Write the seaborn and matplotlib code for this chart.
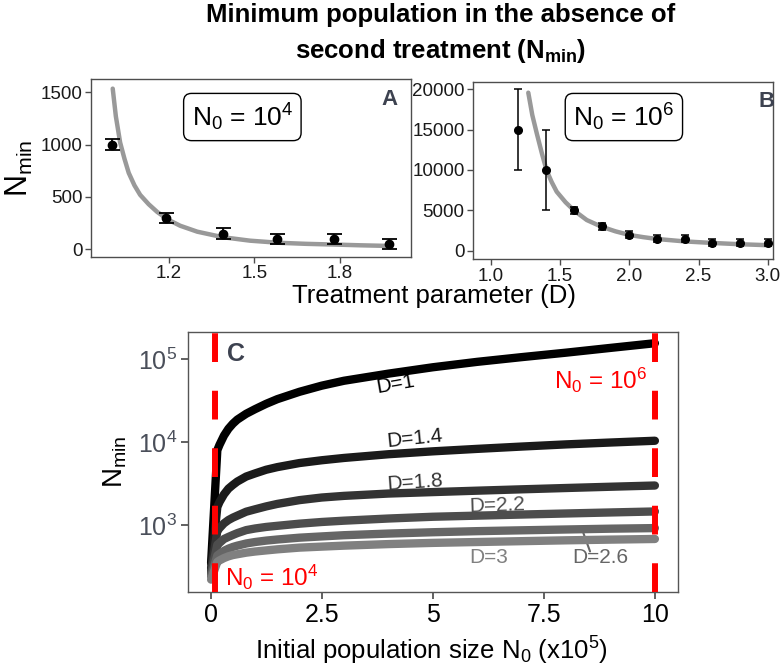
import numpy as np
import pandas as pd
import matplotlib
matplotlib.use("Agg")
import matplotlib.pyplot as plt
import seaborn as sns

# ---- panel A : N0 = 1e4 ----
d_a = [1.0, 1.19, 1.39, 1.58, 1.78, 1.97]
nmin_a = [1000, 300, 150, 100, 100, 50]
err_a = [50, 50, 50, 50, 50, 50]
fit_d_a = [1.004, 1.015, 1.03, 1.045, 1.06, 1.08, 1.1, 1.13, 1.16, 1.2, 1.24, 1.3,
           1.39, 1.485, 1.585, 1.68, 1.78, 1.87, 1.97]
fit_n_a = [1535, 1270, 1020, 866, 730, 611, 520, 430, 356, 280, 225, 168,
           115, 82, 62, 52, 45, 38, 32]

# ---- panel B : N0 = 1e6 ----
d_b = [1.2, 1.4, 1.6, 1.8, 2.0, 2.2, 2.4, 2.6, 2.8, 3.0]
nmin_b = [15000, 10000, 5000, 3000, 2000, 1500, 1500, 1000, 1000, 1000]
err_b = [5000, 5000, 400, 400, 400, 400, 400, 400, 400, 400]
fit_d_b = [1.271, 1.3, 1.332, 1.37, 1.404, 1.44, 1.476, 1.54, 1.603, 1.693, 1.8, 1.9,
           2.0, 2.1, 2.2, 2.4, 2.6, 2.8, 3.0]
fit_n_b = [19580, 16800, 14550, 12000, 9910, 8500, 7310, 6000, 4960, 3800, 2970, 2400,
           1950, 1680, 1450, 1150, 960, 800, 680]

# ---- panel C : Nmin vs N0 (x1e5) for several D ----
n0_c = [0.01, 0.15, 0.2, 0.3, 0.4, 0.5, 0.6, 0.8, 1.0, 1.25, 1.5, 2.0, 2.5, 3.0,
        4.0, 5.0, 6.0, 7.0, 8.0, 9.0, 10.0]
d_levels = ["1", "1.4", "1.8", "2.2", "2.6", "3"]
nmin_c = {
    "1":   [350, 8000, 9300, 12000, 14500, 16700, 18700, 22000, 25000, 29000, 33000,
            40500, 48000, 55000, 67000, 80000, 93000, 106000, 120000, 137000, 156000],
    "1.4": [300, 1650, 1900, 2350, 2750, 3050, 3350, 3850, 4200, 4650, 5000,
            5600, 6050, 6450, 7150, 7750, 8300, 8850, 9400, 9900, 10400],
    "1.8": [280, 850, 920, 1050, 1150, 1230, 1300, 1450, 1550, 1680, 1800,
            2000, 2150, 2250, 2400, 2500, 2600, 2700, 2800, 2900, 3000],
    "2.2": [260, 580, 610, 680, 720, 760, 800, 870, 910, 950, 980,
            1040, 1090, 1130, 1200, 1260, 1300, 1340, 1380, 1420, 1460],
    "2.6": [240, 430, 450, 490, 520, 545, 565, 600, 625, 650, 670,
            705, 730, 755, 790, 820, 845, 865, 885, 905, 920],
    "3":   [220, 360, 375, 400, 420, 435, 445, 465, 480, 495, 510,
            535, 550, 565, 590, 610, 625, 640, 655, 668, 680],
}
line_colors = ["#000000", "#1a1a1a", "#333333", "#4d4d4d", "#666666", "#808080"]

sns.set_theme(style="white")
plt.rcParams["font.family"] = ["Liberation Sans", "DejaVu Sans"]
plt.rcParams["text.color"] = "black"
plt.rcParams["axes.labelcolor"] = "black"
plt.rcParams["mathtext.fontset"] = "custom"
plt.rcParams["mathtext.rm"] = "Liberation Sans"
plt.rcParams["mathtext.it"] = "Liberation Sans:italic"
plt.rcParams["mathtext.bf"] = "Liberation Sans:bold"
plt.rcParams["mathtext.default"] = "regular"
plt.rcParams["lines.scale_dashes"] = False
label_grey = "#3d4250"

W, H = 784, 670
fig = plt.figure(figsize=(W / 100, H / 100), dpi=100)


def box(l, t, r, b):
    return [l / W, 1 - b / H, (r - l) / W, (b - t) / H]


axA = fig.add_axes(box(91, 79, 411, 256.7))
axB = fig.add_axes(box(473, 81.7, 773, 259.3))
axC = fig.add_axes(box(188, 332, 678, 592))


def frame(ax, col="#4d4d4d"):
    for s in ax.spines.values():
        s.set_visible(True)
        s.set_color(col)
        s.set_linewidth(1)


# panel A
df_a = pd.DataFrame({"D": fit_d_a, "Nmin": fit_n_a})
sns.lineplot(data=df_a, x="D", y="Nmin", ax=axA, color="#999999", linewidth=3.2, sort=False)
axA.errorbar(d_a, nmin_a, yerr=err_a, fmt="o", color="black", markersize=6,
             capsize=5.4, elinewidth=1.3, capthick=1.3, zorder=5)
axA.set_xlim(0.928, 2.048)
axA.set_ylim(-71, 1627)
axA.set_xticks([1.2, 1.5, 1.8])
axA.set_xticklabels(["1.2", "1.5", "1.8"])
axA.set_yticks([0, 500, 1000, 1500])
axA.set_xlabel("")
axA.set_ylabel("N$_{min}$", fontsize=22, labelpad=4)
axA.text(0.473, 0.786, "N$_0$ = 10$^4$", transform=axA.transAxes, ha="center", va="center",
         fontsize=19, bbox=dict(boxstyle="round,pad=0.3", fc="white", ec="black", lw=1))
axA.text(0.934, 0.882, "A", transform=axA.transAxes, ha="center", va="center",
         fontsize=16, fontweight="bold", color=label_grey)

# panel B
df_b = pd.DataFrame({"D": fit_d_b, "Nmin": fit_n_b})
sns.lineplot(data=df_b, x="D", y="Nmin", ax=axB, color="#999999", linewidth=3.2, sort=False)
axB.errorbar(d_b, nmin_b, yerr=err_b, fmt="o", color="black", markersize=5.5,
             capsize=2.8, elinewidth=1.1, capthick=1.1, zorder=5)
axB.set_xlim(0.872, 3.037)
axB.set_ylim(-1066, 20940)
axB.set_xticks([1.0, 1.5, 2.0, 2.5, 3.0])
axB.set_xticklabels(["1.0", "1.5", "2.0", "2.5", "3.0"])
axB.set_yticks([0, 5000, 10000, 15000, 20000])
axB.set_xlabel("")
axB.set_ylabel("")
axB.text(0.503, 0.801, "N$_0$ = 10$^6$", transform=axB.transAxes, ha="center", va="center",
         fontsize=19, bbox=dict(boxstyle="round,pad=0.3", fc="white", ec="black", lw=1))
axB.text(0.977, 0.891, "B", transform=axB.transAxes, ha="center", va="center",
         fontsize=16, fontweight="bold", color=label_grey)

for ax in (axA, axB):
    frame(ax)
    ax.tick_params(axis="both", which="major", labelsize=13.5, length=4, width=1,
                   color="#4d4d4d", labelcolor="#1a1a1a", pad=2, bottom=True, left=True)

fig.text(434 / W, 1 - 296 / H, "Treatment parameter (D)", ha="center", va="center",
         fontsize=18.5)

# panel C
rows = []
for d in d_levels:
    for x, y in zip(n0_c, nmin_c[d]):
        rows.append({"N0": x, "Nmin": y, "D": d})
df_c = pd.DataFrame(rows)
sns.lineplot(data=df_c, x="N0", y="Nmin", hue="D", hue_order=d_levels,
             palette=dict(zip(d_levels, line_colors)), linewidth=6, legend=False,
             ax=axC, sort=False)
for ln in axC.get_lines():
    ln.set_solid_capstyle("round")
    ln.set_solid_joinstyle("round")
axC.set_yscale("log")
axC.set_xlim(-0.51, 10.52)
axC.set_ylim(156, 213000)
for xv in (0.1, 10):
    axC.axvline(xv, color="#ff0000", linewidth=4.3, linestyle=(0, (20.7, 20.7)), zorder=6)
axC.set_xticks([0, 2.5, 5, 7.5, 10])
axC.set_xticklabels(["0", "2.5", "5", "7.5", "10"])
axC.set_yticks([1e3, 1e4, 1e5])
axC.set_yticklabels(["10$^3$", "10$^4$", "10$^5$"])
axC.minorticks_off()
axC.tick_params(axis="x", labelsize=18, length=5, color="#4d4d4d", labelcolor="black",
                pad=3, bottom=True)
axC.tick_params(axis="y", labelsize=18, length=5, color="#4d4d4d", labelcolor="#4a4f5a",
                pad=3, left=True)
frame(axC, "#555555")
axC.set_xlabel("")
axC.set_ylabel("N$_{min}$", fontsize=20, labelpad=6)
fig.text(431 / W, 1 - 651 / H, "Initial population size N$_0$ (x10$^5$)", ha="center",
         va="center", fontsize=18.5)

lab_kw = dict(ha="center", va="center", fontsize=15, zorder=1)
axC.text(4.17, 50500, "D=1", rotation=10, color=line_colors[0], **lab_kw)
axC.text(4.6, 11000, "D=1.4", rotation=6, color=line_colors[1], **lab_kw)
axC.text(4.6, 3240, "D=1.8", rotation=4, color=line_colors[2], **lab_kw)
axC.text(6.45, 1710, "D=2.2", rotation=2, color=line_colors[3], **lab_kw)
axC.text(6.25, 405, "D=3", color=line_colors[5], **lab_kw)
axC.text(8.77, 405, "D=2.6", color=line_colors[4], **lab_kw)
axC.plot([8.39, 8.54], [802, 481], color=line_colors[4], linewidth=1.5, zorder=1)
axC.text(8.78, 56000, "N$_0$ = 10$^6$", color="#ff0000", fontsize=17.5, ha="center",
         va="center", zorder=7)
axC.text(0.32, 236, "N$_0$ = 10$^4$", color="#ff0000", fontsize=17.5, ha="left",
         va="center", zorder=7)
axC.text(0.57, 116000, "C", color=label_grey, fontsize=18, fontweight="bold",
         ha="center", va="center")

# title
fig.text(441 / W, 1 - 22 / H, "Minimum population in the absence of", ha="center",
         va="baseline", fontsize=18.5, fontweight="bold")
fig.text(441 / W, 1 - 58 / H, r"second treatment (N$_{\mathbf{min}}$)", ha="center",
         va="baseline", fontsize=18.5, fontweight="bold")

fig.savefig("out.png", dpi=100)
